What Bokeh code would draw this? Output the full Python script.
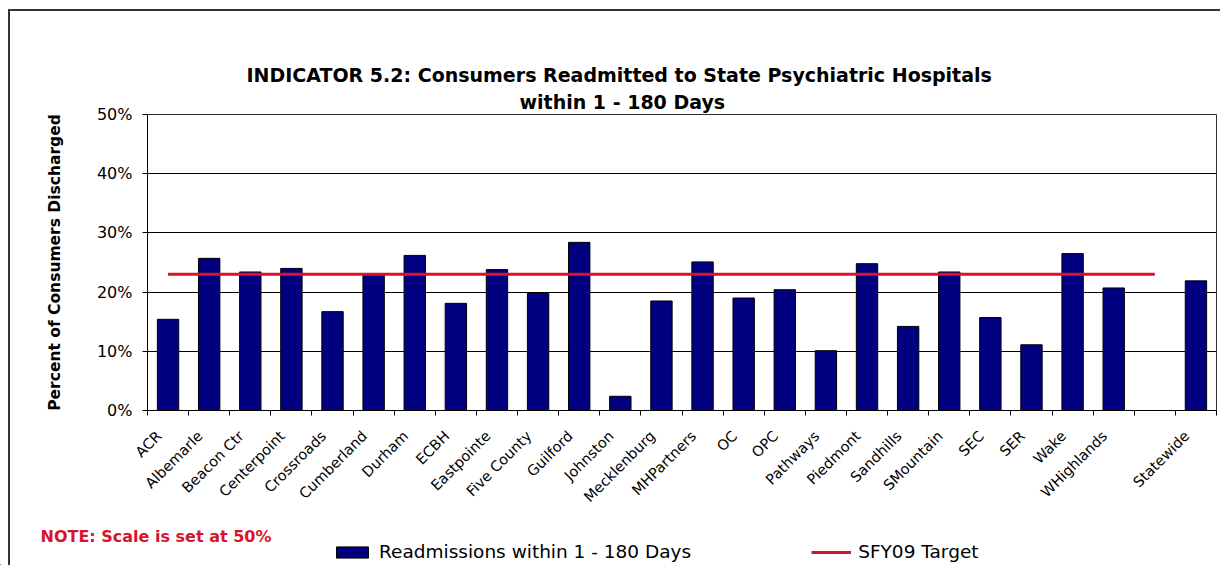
from bokeh.plotting import figure
from bokeh.layouts import column
from bokeh.models import (ColumnDataSource, FixedTicker, CustomJSTickFormatter, NumeralTickFormatter,
                          Legend, LegendItem, Title, Label, Range1d)
from bokeh.embed import file_html
from bokeh.resources import INLINE
import math

# ---- data ----
categories = ["ACR", "Albemarle", "Beacon Ctr", "Centerpoint", "Crossroads", "Cumberland", "Durham",
              "ECBH", "Eastpointe", "Five County", "Guilford", "Johnston", "Mecklenburg", "MHPartners",
              "OC", "OPC", "Pathways", "Piedmont", "Sandhills", "SMountain", "SEC", "SER", "Wake",
              "WHighlands", "", "Statewide"]
readmissions = [0.154, 0.257, 0.234, 0.240, 0.167, 0.229, 0.262, 0.181, 0.238, 0.198, 0.284, 0.024,
                0.185, 0.251, 0.190, 0.204, 0.101, 0.248, 0.142, 0.234, 0.157, 0.111, 0.265, 0.207,
                None, 0.219]
target = [0.23, 0.23, 0.23, 0.23, 0.23, 0.23, 0.23, 0.23, 0.23, 0.23, 0.23, 0.23, 0.23, 0.23,
          0.23, 0.23, 0.23, 0.23, 0.23, 0.23, 0.23, 0.23, 0.23, 0.23, 0.23, None]
y_ticks = [0.0, 0.1, 0.2, 0.3, 0.4, 0.5]

title_lines = ["INDICATOR 5.2: Consumers Readmitted to State Psychiatric Hospitals", "within 1 - 180 Days"]
y_label = "Percent of Consumers Discharged"
note_text = "NOTE: Scale is set at 50%"
bar_name = "Readmissions within 1 - 180 Days"
target_name = "SFY09 Target"

FONT = "DejaVu Sans"
NAVY = "#000080"
RED = "#D7142B"
BORDER = "#333333"

n = len(categories)
centers = [i + 0.5 for i in range(n)]
bar_src = ColumnDataSource(dict(x=[c for c, v in zip(centers, readmissions) if v is not None],
                                top=[v for v in readmissions if v is not None]))
tx = [c for c, v in zip(centers, target) if v is not None]
ty = [v for v in target if v is not None]

W = 1220
H1, H2 = 520, 45

# ---------------- main chart ----------------
p = figure(width=W, height=H1, output_backend="svg", toolbar_location=None,
           x_range=Range1d(0, n), y_range=Range1d(0, 0.5),
           min_border_left=147, min_border_right=4, min_border_top=114, min_border_bottom=110)
p.frame_align = False
p.background_fill_color = "white"
p.border_fill_alpha = 0
p.outline_line_color = "#303030"
p.outline_line_width = 1

bars = p.vbar(x="x", top="top", width=0.52, source=bar_src, fill_color=NAVY,
              line_color="black", line_width=1)
tline = p.line(tx, ty, line_color=RED, line_width=3)

# x axis: labels slightly left of centre (as in the original), ticks on category boundaries
label_pos = [i + 0.28 for i in range(n)]
p.xaxis.ticker = FixedTicker(ticks=label_pos, minor_ticks=list(range(n + 1)))
p.xaxis.formatter = CustomJSTickFormatter(args=dict(names=categories),
                                          code="return names[Math.floor(tick)];")
p.xaxis.major_tick_out = 0
p.xaxis.major_tick_in = 0
p.xaxis.minor_tick_out = 5
p.xaxis.minor_tick_in = 0
p.xaxis.minor_tick_line_color = "black"
p.xaxis.axis_line_color = "black"
p.xaxis.major_label_orientation = math.pi / 4
p.xaxis.major_label_text_font = FONT
p.xaxis.major_label_text_font_size = "14.5px"
p.xaxis.major_label_text_color = "black"
p.xaxis.major_label_standoff = 18

p.yaxis.ticker = FixedTicker(ticks=y_ticks)
p.yaxis.formatter = NumeralTickFormatter(format="0%")
p.yaxis.minor_tick_line_color = None
p.yaxis.major_tick_out = 5
p.yaxis.major_tick_in = 0
p.yaxis.major_tick_line_color = "black"
p.yaxis.axis_line_color = "black"
p.yaxis.major_label_text_font = FONT
p.yaxis.major_label_text_font_size = "16px"
p.yaxis.major_label_text_color = "black"
p.yaxis.major_label_standoff = 10
p.yaxis.axis_label = y_label
p.yaxis.axis_label_text_font = FONT
p.yaxis.axis_label_text_font_size = "15.5px"
p.yaxis.axis_label_text_font_style = "bold"
p.yaxis.axis_label_text_color = "black"
p.yaxis.axis_label_standoff = 30

p.xgrid.grid_line_color = None
p.ygrid.ticker = FixedTicker(ticks=y_ticks)
p.ygrid.grid_line_color = "black"
p.ygrid.grid_line_width = 1

# titles (second line added first: later panels stack further from the frame)
p.add_layout(Title(text=title_lines[1], align="left", offset=372, standoff=4, text_font=FONT,
                   text_font_size="19px", text_font_style="bold", text_color="black"), "above")
p.add_layout(Title(text=title_lines[0], align="left", offset=99, standoff=1, text_font=FONT,
                   text_font_size="19px", text_font_style="bold", text_color="black"), "above")

# ---------------- bottom strip: note + legend ----------------
q = figure(width=W, height=H2, output_backend="svg", toolbar_location=None,
           x_range=Range1d(0, W), y_range=Range1d(0, H2), min_border=0,
           x_axis_location=None, y_axis_location=None)
q.frame_align = False
q.outline_line_color = None
q.background_fill_alpha = 0
q.border_fill_alpha = 0
q.grid.visible = False

# legend keys (kept outside the visible range of this strip)
key_bar = q.vbar(x=[-100], top=[1], width=1, fill_color=NAVY, line_color="black", line_width=1)
key_line = q.line(x=[-110, -100], y=[1, 1], line_color=RED, line_width=3)

q.add_layout(Label(x=40, y=29, x_units="screen", y_units="screen", text=note_text,
                   text_align="left", text_baseline="middle", text_font=FONT,
                   text_font_size="16px", text_font_style="bold", text_color=RED))

legend = Legend(items=[LegendItem(label=bar_name, renderers=[key_bar]),
                       LegendItem(label=target_name, renderers=[key_line])],
                orientation="horizontal", location=(332, 3), padding=0, margin=0,
                spacing=120, glyph_width=40, glyph_height=14, label_standoff=7,
                label_text_font=FONT, label_text_font_size="18.5px", label_text_color="black",
                border_line_color=None, background_fill_alpha=0)
q.add_layout(legend, "center")

layout = column(p, q, spacing=0)
# outer chart border (left and top edges; the right and bottom edges fall outside the picture)
layout.styles = {
    "background-color": "white",
    "background-image": f"linear-gradient({BORDER}, {BORDER}), linear-gradient({BORDER}, {BORDER})",
    "background-size": "2px 100%, 100% 2px",
    "background-position": "8px 9px, 8px 9px",
    "background-repeat": "no-repeat",
}
open("out.html", "w").write(file_html(layout, INLINE))
